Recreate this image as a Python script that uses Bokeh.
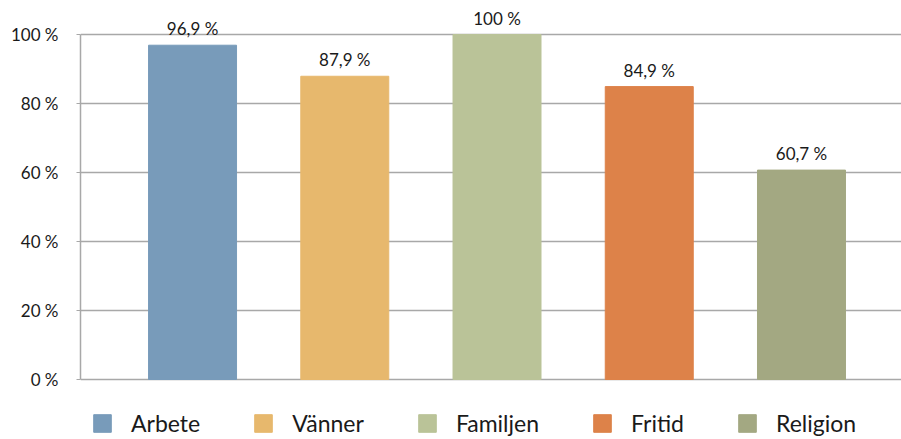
from bokeh.plotting import figure
from bokeh.models import ColumnDataSource, Legend, LegendItem, Range1d, FixedTicker, CustomJSTickFormatter
from bokeh.core.properties import value
from bokeh.embed import file_html
from bokeh.resources import INLINE

categories = ["Arbete", "Vänner", "Familjen", "Fritid", "Religion"]
values = [96.9, 87.9, 100.0, 84.9, 60.7]
labels = ["96,9 %", "87,9 %", "100 %", "84,9 %", "60,7 %"]
colors = ["#789BBA", "#E7B86D", "#BAC398", "#DD8249", "#A3A882"]
yticks = [0, 20, 40, 60, 80, 100]

FONT = "Lato"
xs = list(range(1, len(categories) + 1))

p = figure(width=901, height=439, output_backend="svg", toolbar_location=None,
           x_range=Range1d(0.264, 5.657), y_range=Range1d(-17.39, 106.96),
           min_border_left=80, min_border_right=0, min_border_top=10, min_border_bottom=0)
p.outline_line_color = None
p.xaxis.visible = False
p.xgrid.grid_line_color = None

p.yaxis.ticker = FixedTicker(ticks=yticks)
p.yaxis.bounds = (0, 100)
p.yaxis.formatter = CustomJSTickFormatter(code="return tick.toFixed(0) + ' %';")
p.yaxis.axis_line_color = "#a8a8a8"
p.yaxis.axis_line_width = 1.5
p.yaxis.major_tick_line_color = "#a8a8a8"
p.yaxis.major_tick_out = 4
p.yaxis.major_tick_in = 0
p.yaxis.minor_tick_line_color = None
p.yaxis.major_label_standoff = 18
p.yaxis.major_label_text_font = FONT
p.yaxis.major_label_text_font_size = "17px"
p.yaxis.major_label_text_color = "#1a1a1a"
p.ygrid.ticker = FixedTicker(ticks=yticks)
p.ygrid.grid_line_color = "#a8a8a8"
p.ygrid.grid_line_width = 1.5

src = ColumnDataSource(dict(x=xs, top=values, color=colors, label=labels, cat=categories))
bars = p.vbar(x="x", top="top", width=0.578, color="color", source=src)
p.text(x="x", y="top", text="label", source=src, text_align="center", text_baseline="bottom",
       y_offset=-6, text_font=value(FONT), text_font_size="17px", text_color="#1a1a1a")

items = [LegendItem(label=c, renderers=[bars], index=i) for i, c in enumerate(categories)]
legend = Legend(items=items, orientation="horizontal", location=(11, 2),
                glyph_width=22, glyph_height=22, label_standoff=18, spacing=52,
                padding=0, margin=0, border_line_color=None, background_fill_alpha=0,
                label_text_font=FONT, label_text_font_size="23px", label_text_color="#1a1a1a",
                label_height=22)
p.add_layout(legend, "center")

open("out.html", "w").write(file_html(p, INLINE))
